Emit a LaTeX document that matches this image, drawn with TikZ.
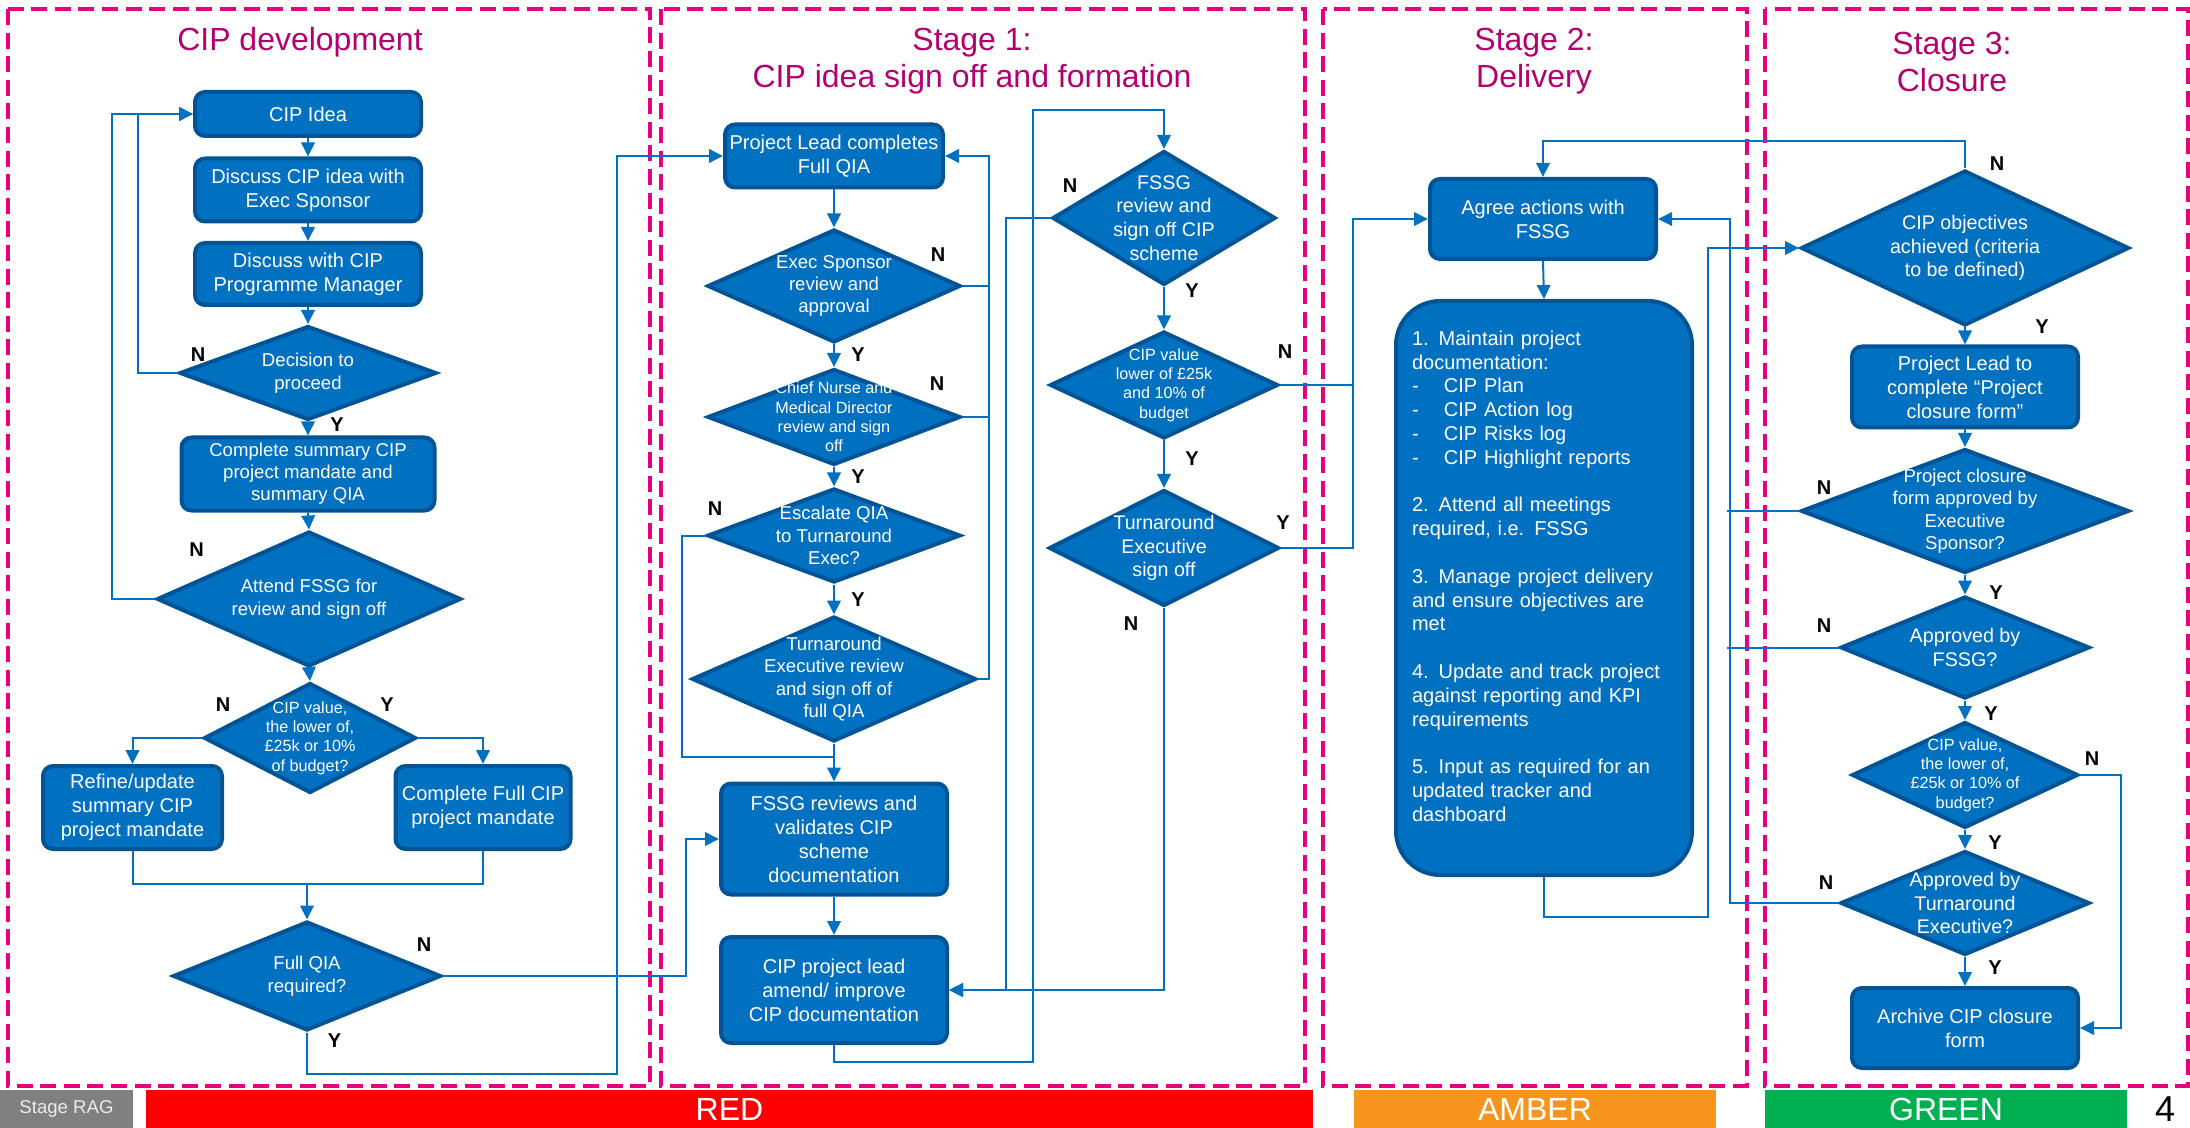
\documentclass[tikz,border=0pt]{standalone}
\usepackage{fontspec}
\setmainfont{Liberation Sans}
\usetikzlibrary{shapes.geometric,arrows.meta}

\definecolor{cipblue}{RGB}{0,112,192}
\definecolor{cipline}{RGB}{0,84,150}
\definecolor{stagepink}{RGB}{230,0,126}
\definecolor{stagetitle}{RGB}{180,0,110}
\definecolor{ragred}{RGB}{255,0,0}
\definecolor{ragamber}{RGB}{247,148,29}
\definecolor{raggreen}{RGB}{0,176,80}
\definecolor{raggrey}{RGB}{128,128,128}
\newcommand{\cipitem}[1]{\makebox[16pt][l]{-}#1}

\begin{document}
\begin{tikzpicture}[x=0.5pt,y=-0.5pt,
  stepbox/.style={draw=cipline, line width=2pt, fill=cipblue, rounded corners=5pt, text=white, align=center, inner sep=2pt, font=\fontsize{10}{12}\selectfont},
  decision/.style={diamond, draw=cipline, line width=2pt, fill=cipblue, inner sep=0pt},
  dtext/.style={text=white, align=center, inner sep=0pt, font=\fontsize{9.3}{11.2}\selectfont},
  dsmall/.style={dtext, font=\fontsize{8.1}{9.7}\selectfont},
  dlarge/.style={dtext, font=\fontsize{9.85}{11.9}\selectfont},
  link/.style={draw=cipblue, line width=1pt, -{Triangle[length=7pt,width=6.75pt]}},
  cline/.style={draw=cipblue, line width=1pt},
  yn/.style={font=\bfseries\fontsize{10}{11}\selectfont, inner sep=0pt},
  stagebox/.style={draw=stagepink, line width=2pt, dash pattern=on 8pt off 3.8pt},
  stagehead/.style={text=stagetitle, align=center, font=\fontsize{16}{18.5}\selectfont},
  ragbar/.style={minimum height=19pt, inner sep=0pt, text=white, font=\fontsize{16}{18}\selectfont},
]
\useasboundingbox (0,0) rectangle (2190,1128);

% stage frames and headings
\draw[stagebox] (7.6,9) rectangle (650,1085.6);
\draw[stagebox] (661,9) rectangle (1304.8,1085.6);
\draw[stagebox] (1322.7,9) rectangle (1746.7,1085.6);
\draw[stagebox] (1765,9) rectangle (2188,1085.6);
\node[stagehead] (devhead) at (300,42) {CIP development};
\node[stagehead] (s1head) at (972,61.5) {Stage 1:\\CIP idea sign off and formation};
\node[stagehead] (s2head) at (1534,61.5) {Stage 2:\\Delivery};
\node[stagehead] (s3head) at (1952,61.5) {Stage 3:\\Closure};

% CIP development
\node[stepbox, minimum width=113pt, minimum height=22pt] (idea) at (308,114) {CIP Idea};
\node[stepbox, minimum width=113pt, minimum height=31.5pt] (discuss) at (308,190) {Discuss CIP idea with\\Exec Sponsor};
\node[stepbox, minimum width=113pt, minimum height=31pt] (manager) at (308,274) {Discuss with CIP\\Programme Manager};
\node[decision, minimum width=128.5pt, minimum height=47pt, label={[dtext]center:{Decision to\\proceed}}] (proceed) at (308,373) {};
\node[stepbox, minimum width=126.5pt, minimum height=36.5pt, font=\fontsize{9.3}{11}\selectfont] (summary) at (308,474) {Complete summary CIP\\project mandate and\\summary QIA};
\node[decision, minimum width=152pt, minimum height=67.5pt, label={[dtext]center:{Attend FSSG for\\review and sign off}}] (attend) at (309,599) {};
\node[decision, minimum width=106pt, minimum height=55pt, label={[dsmall]center:{CIP value,\\the lower of,\\£25k or 10\%\\of budget?}}] (value1) at (310,738) {};
\node[stepbox, minimum width=89.5pt, minimum height=41.5pt] (refine) at (132.5,807.5) {Refine/update\\summary CIP\\project mandate};
\node[stepbox, minimum width=87.5pt, minimum height=41.5pt] (fullcip) at (483,807.5) {Complete Full CIP\\project mandate};
\node[decision, minimum width=134pt, minimum height=54.5pt, label={[dtext]center:{Full QIA\\required?}}] (fullqia) at (307,976) {};

% Stage 1
\node[stepbox, minimum width=109pt, minimum height=31.5pt] (lead) at (834,156) {Project Lead completes\\Full QIA};
\node[decision, minimum width=126.5pt, minimum height=56.5pt, label={[dtext]center:{Exec Sponsor\\review and\\approval}}] (sponsor) at (834,286) {};
\node[decision, minimum width=126.5pt, minimum height=48pt, label={[dsmall]center:{Chief Nurse and\\Medical Director\\review and sign\\off}}] (nurse) at (834,417) {};
\node[decision, minimum width=126.5pt, minimum height=47pt, label={[dtext]center:{Escalate QIA\\to Turnaround\\Exec?}}] (escalate) at (834,535.5) {};
\node[decision, minimum width=142pt, minimum height=62.5pt, label={[dtext]center:{Turnaround\\Executive review\\and sign off of\\full QIA}}] (turnqia) at (834,679) {};
\node[stepbox, minimum width=113pt, minimum height=55.5pt] (fssgdoc) at (834,839) {FSSG reviews and\\validates CIP\\scheme\\documentation};
\node[stepbox, minimum width=113pt, minimum height=53pt] (amend) at (834,990) {CIP project lead\\amend/ improve\\CIP documentation};
\node[decision, minimum width=111.5pt, minimum height=67pt, label={[dlarge]center:{FSSG\\review and\\sign off CIP\\scheme}}] (review) at (1164,218) {};
\node[decision, minimum width=114pt, minimum height=53.5pt, label={[dsmall]center:{CIP value\\lower of £25k\\and 10\% of\\budget}}] (value2) at (1164,385) {};
\node[decision, minimum width=115pt, minimum height=58pt, label={[dlarge]center:{Turnaround\\Executive\\sign off}}] (turnsign) at (1164,548) {};

% Stage 2
\node[stepbox, minimum width=113pt, minimum height=40pt] (agree) at (1543,219) {Agree actions with\\FSSG};
\node[stepbox, rounded corners=22pt, minimum width=148pt, minimum height=287pt, text width=132pt, inner xsep=8pt, align=left, font=\fontsize{10}{11.9}\selectfont] (duties) at (1544,588) {1. Maintain project\\documentation:\\\cipitem{CIP Plan}\\\cipitem{CIP Action log}\\\cipitem{CIP Risks log}\\\cipitem{CIP Highlight reports}\\[\baselineskip]
2. Attend all meetings\\required, i.e. FSSG\\[\baselineskip]
3. Manage project delivery\\and ensure objectives are\\met\\[\baselineskip]
4. Update and track project\\against reporting and KPI\\requirements\\[\baselineskip]
5. Input as required for an\\updated tracker and\\dashboard\\\mbox{}};

% Stage 3
\node[decision, minimum width=164pt, minimum height=77.5pt, label={[dlarge]center:{CIP objectives\\achieved (criteria\\to be defined)}}] (objectives) at (1965,248) {};
\node[stepbox, minimum width=113pt, minimum height=40.5pt] (closeform) at (1965,387) {Project Lead to\\complete “Project\\closure form”};
\node[decision, minimum width=164pt, minimum height=62pt, label={[dtext]center:{Project closure\\form approved by\\Executive\\Sponsor?}}] (approved) at (1965,511) {};
\node[decision, minimum width=124.5pt, minimum height=51pt, label={[dlarge]center:{Approved by\\FSSG?}}] (byfssg) at (1965,647.5) {};
\node[decision, minimum width=113pt, minimum height=53pt, label={[dsmall]center:{CIP value,\\the lower of,\\£25k or 10\% of\\budget?}}] (value3) at (1965,775) {};
\node[decision, minimum width=124.5pt, minimum height=52pt, label={[dlarge]center:{Approved by\\Turnaround\\Executive?}}] (byturn) at (1965,903) {};
\node[stepbox, minimum width=113pt, minimum height=40pt] (archive) at (1965,1028) {Archive CIP closure\\form};

% connectors
\draw[link] (idea.south) -- (discuss.north);
\draw[link] (discuss.south) -- (manager.north);
\draw[link] (manager.south) -- (proceed.north);
\draw[link] (proceed.south) -- (summary.north);
\draw[link] (summary.south) -- (attend.north);
\draw[link] (attend.south) -- (value1.north);
\draw[link] (proceed.west) -- ++(-40,0) |- (idea.west);
\draw[link] (attend.west) -- ++(-43,0) |- (idea.west);
\draw[link] (value1.west) -| (refine.north);
\draw[link] (value1.east) -| (fullcip.north);
\coordinate (joinA) at (307,884);
\draw[cline] (refine.south) |- (joinA) -| (fullcip.south);
\draw[link] (joinA) -- (fullqia.north);
\draw[link] (fullqia.south) -- ++(0,41.5) -| ([xshift=-53pt]lead.west) -- (lead.west);
\draw[link] (fullqia.east) -| ([xshift=-16.5pt]fssgdoc.west) -- (fssgdoc.west);

\draw[link] (lead.south) -- (sponsor.north);
\draw[link] (sponsor.south) -- (nurse.north);
\draw[link] (nurse.south) -- (escalate.north);
\draw[link] (escalate.south) -- (turnqia.north);
\draw[link] (turnqia.south) -- (fssgdoc.north);
\draw[link] (fssgdoc.south) -- (amend.north);
\draw[link] (turnqia.east) -- ++(11,0) |- (lead.east);
\draw[cline] (sponsor.east) -- ++(26.5,0);
\draw[cline] (nurse.east) -- ++(26.5,0);
\draw[cline] (escalate.west) -- ++(-24,0) |- ([yshift=12.5pt]fssgdoc.north);
\draw[link] (amend.south) -- ++(0,17) -| ++(198.5,-951.5) -| (review.north);

\draw[link] (review.south) -- (value2.north);
\draw[link] (value2.south) -- (turnsign.north);
\draw[link] (review.west) -- ++(-44.5,0) |- (amend.east);
\draw[link] (turnsign.south) |- (amend.east);
\draw[link] (value2.east) -| ([xshift=-37.5pt]agree.west) -- (agree.west);
\draw[cline] (turnsign.east) -| ([xshift=-37.5pt]agree.west);

\draw[link] (agree.south) -- (duties.north);
\draw[link] (duties.south) -- ++(0,40) -| ([xshift=-45.5pt]objectives.west) -- (objectives.west);

\draw[link] (objectives.north) -- ++(0,-27.5) -| (agree.north);
\draw[link] (objectives.south) -- (closeform.north);
\draw[link] (closeform.south) -- (approved.north);
\draw[link] (approved.south) -- (byfssg.north);
\draw[link] (byfssg.south) -- (value3.north);
\draw[link] (value3.south) -- (byturn.north);
\draw[link] (byturn.south) -- (archive.north);
\draw[link] (byturn.west) -| ([xshift=36pt]agree.east) -- (agree.east);
\draw[cline] (approved.west) -- ++(-72,0);
\draw[cline] (byfssg.west) -- ++(-111.5,0);
\draw[link] (value3.east) -- ++(41,0) |- (archive.east);

% Y/N answers
\foreach \pos/\txt [count=\k] in {{198,355}/N, {337,425}/Y, {196.5,550}/N, {223,705}/N, {387,705}/Y, {424,945}/N, {334.6,1040.6}/Y,
  {938,255}/N, {858,355}/Y, {937,384}/N, {858,477}/Y, {715,509}/N, {858,600}/Y,
  {1070,186}/N, {1192,291}/Y, {1285,352}/N, {1192,459}/Y, {1283,523}/Y, {1131,624}/N,
  {1997,164}/N, {2042,327}/Y, {1824,487.5}/N, {1996,592.5}/Y, {1824,626}/N, {1991,714}/Y,
  {2092,759}/N, {1995,843}/Y, {1826,883}/N, {1995,967.5}/Y}
  \node[yn] (yn\k) at (\pos) {\txt};

% RAG strip
\node[ragbar, fill=raggrey, minimum width=66.5pt, text=white!92!black, font=\fontsize{9.3}{11}\selectfont] (rag) at (66.5,1109) {Stage RAG};
\node[ragbar, fill=ragred, minimum width=583.5pt] (red) at (729.5,1109) {RED};
\node[ragbar, fill=ragamber, minimum width=181pt] (amber) at (1535,1109) {AMBER};
\node[ragbar, fill=raggreen, minimum width=181pt] (green) at (1946,1109) {GREEN};
\node[font=\fontsize{18}{20}\selectfont, inner sep=0pt] (page) at (2165,1109) {4};
\end{tikzpicture}
\end{document}
